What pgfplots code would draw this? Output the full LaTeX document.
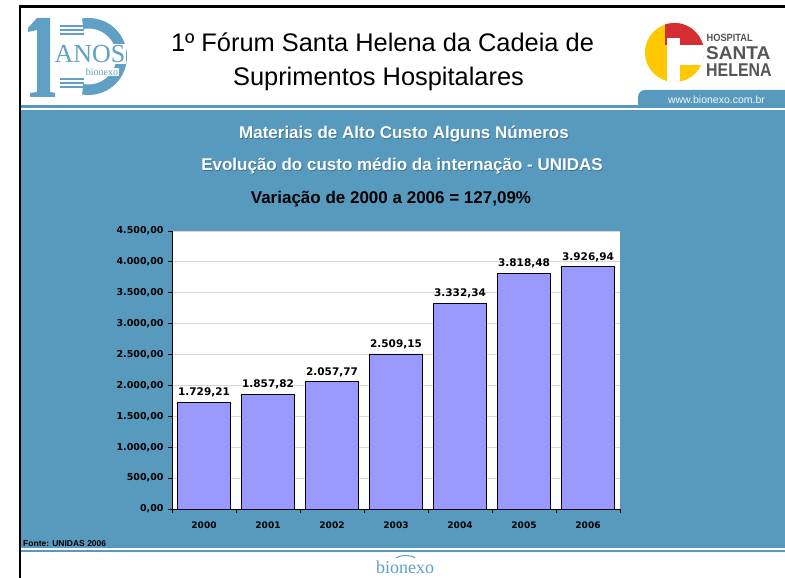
\documentclass[border=0pt]{standalone}
\usepackage{fontspec}
\usepackage{pgfplots}
\pgfplotsset{compat=1.18}
\setmainfont{Liberation Sans}
\newfontfamily\dejavu{DejaVu Sans}
\newfontfamily\lserif{Liberation Serif}
\definecolor{slide}{RGB}{88,154,190}
\definecolor{logob}{RGB}{96,160,196}
\definecolor{barfill}{RGB}{153,153,255}
\definecolor{hyellow}{RGB}{255,200,0}
\definecolor{hred}{RGB}{212,45,50}
\definecolor{hgray}{RGB}{85,85,85}
\definecolor{shadowc}{RGB}{45,85,115}
\begin{document}
\begin{tikzpicture}[x=1pt,y=1pt]
\path[use as bounding box] (0,0) rectangle (785,578);
\fill[white] (0,0) rectangle (785,578);
% main blue area
\fill[slide] (21,29.7) rectangle (785,468);
% header line and tab
\fill[slide] (21,470) rectangle (785,473);
\fill[slide] (638,470) {[rounded corners=7pt] -- (638,488) -- (800,488)} -- (800,470) -- cycle;
\node[anchor=base, text=white!92!slide, font=\fontsize{10.5}{12}\selectfont] at (716.5,474) {www.bionexo.com.br};
% footer line
\fill[slide] (21,26) rectangle (785,28.3);
% black frame lines
\fill[black] (18.5,0) rectangle (21,572.5);
\fill[black] (18.5,570) rectangle (785,572.5);
% header title
\node[anchor=base, font=\fontsize{25.4}{30}\selectfont] at (382.5,526) {1º Fórum Santa Helena da Cadeia de};
\node[anchor=base, font=\fontsize{25.4}{30}\selectfont] at (378.5,492) {Suprimentos Hospitalares};
% left logo
\fill[logob] (37,560) -- (50,560) -- (50,486) -- (55,485) -- (55,481) -- (30,481) -- (30,485) -- (37,486) -- (37,548) -- (28,546) -- (28,550) -- cycle;
\draw[logob, line width=10.5pt] (88.5,521.5) ++(100:33.25) arc[start angle=100,end angle=-100,radius=33.25];
\foreach \yy in {552,548,544} {\draw[logob, line width=1.6pt] (60,\yy) -- (84,\yy);}
\foreach \yy in {499,495,491} {\draw[logob, line width=1.6pt] (60,\yy) -- (84,\yy);}
\node[anchor=base, fill=white, inner sep=1pt, text=logob, font=\lserif\fontsize{26}{28}\selectfont] at (90,515.4) {ANOS};
\node[anchor=center, fill=white, inner sep=0.5pt, text=logob, font=\lserif\fontsize{10}{12}\selectfont] at (102,506) {bionexo};
% right logo
\begin{scope}
\clip (674.5,525.5) circle (29.5);
\fill[hyellow] (640,490) rectangle (710,560);
\fill[hred] (665,533) rectangle (710,560);
\fill[white] (667,490) rectangle (680,540);
\fill[white] (680,513) rectangle (710,533);
\end{scope}
\node[anchor=base west, inner sep=0, text=hgray, font=\bfseries\fontsize{10.5}{12}\selectfont] at (706.5,536) {\scalebox{0.88}[1]{HOSPITAL}};
\node[anchor=base west, inner sep=0, text=hgray, font=\bfseries\fontsize{18.5}{20}\selectfont] at (706,518.5) {\scalebox{1.03}[1]{SANTA}};
\node[anchor=base west, inner sep=0, text=hgray, font=\bfseries\fontsize{18.5}{20}\selectfont] at (706,501.5) {\scalebox{0.86}[1]{HELENA}};
% slide titles
\node[anchor=base, text=shadowc, opacity=0.6, font=\bfseries\fontsize{17}{20}\selectfont] at (404.8,438.2) {Materiais de Alto Custo Alguns Números};
\node[anchor=base, text=white, font=\bfseries\fontsize{17}{20}\selectfont] at (404,439) {Materiais de Alto Custo Alguns Números};
\node[anchor=base, text=shadowc, opacity=0.6, font=\bfseries\fontsize{17}{20}\selectfont] at (402.8,406.2) {Evolução do custo médio da internação - UNIDAS};
\node[anchor=base, text=white, font=\bfseries\fontsize{17}{20}\selectfont] at (402,407) {Evolução do custo médio da internação - UNIDAS};
\node[anchor=base, text=black, font=\bfseries\fontsize{17}{20}\selectfont] at (391,374) {Variação de 2000 a 2006 = 127,09\%};
% source
\node[anchor=base west, inner sep=0, font=\bfseries\fontsize{8.5}{10}\selectfont] at (23,31) {Fonte: UNIDAS 2006};
% bottom logo
\node[anchor=base, text=logob, font=\lserif\fontsize{18}{20}\selectfont] at (405,4) {bionexo};
\draw[logob, line width=1pt] (396,20) arc[start angle=150, end angle=30, x radius=11, y radius=5];

\begin{axis}[
  at={(172pt,69pt)}, anchor=origin,
  scale only axis, width=448pt, height=278pt,
  ymin=0, ymax=4500, xmin=0, xmax=7,
  ytick={0,500,...,4500},
  xtick={0.5,1.5,...,6.5},
  xticklabels={2000,2001,2002,2003,2004,2005,2006},
  minor xtick={0,1,...,7},
  axis x line*=bottom, axis y line*=left,
  axis line style={black, line width=0.8pt},
  tick align=outside,
  major tick length=4pt, minor tick length=4pt,
  xtick style={draw=none},
  minor x tick style={draw=black, line width=0.8pt},
  ytick style={draw=black, line width=0.8pt},
  ymajorgrids, grid style={draw=black!16, line width=0.8pt},
  axis background/.style={fill=white},
  /pgf/number format/.cd, fixed, fixed zerofill, precision=2, use comma, 1000 sep={.}, assume math mode=true,
  /pgfplots/.cd,
  yticklabel style={font=\dejavu\bfseries\fontsize{9.5}{10}\selectfont, xshift=-1pt},
  xticklabel style={font=\dejavu\bfseries\fontsize{9}{10}\selectfont, yshift=-5pt},
  ybar, bar width=0.833,
  nodes near coords,
  nodes near coords style={font=\dejavu\bfseries\fontsize{10.5}{12}\selectfont, yshift=1pt},
]
\addplot[fill=barfill, draw=black, line width=0.9pt] coordinates {
(0.5,1729.21) (1.5,1857.82) (2.5,2057.77) (3.5,2509.15) (4.5,3332.34) (5.5,3818.48) (6.5,3926.94)};
\end{axis}
\end{tikzpicture}
\end{document}
